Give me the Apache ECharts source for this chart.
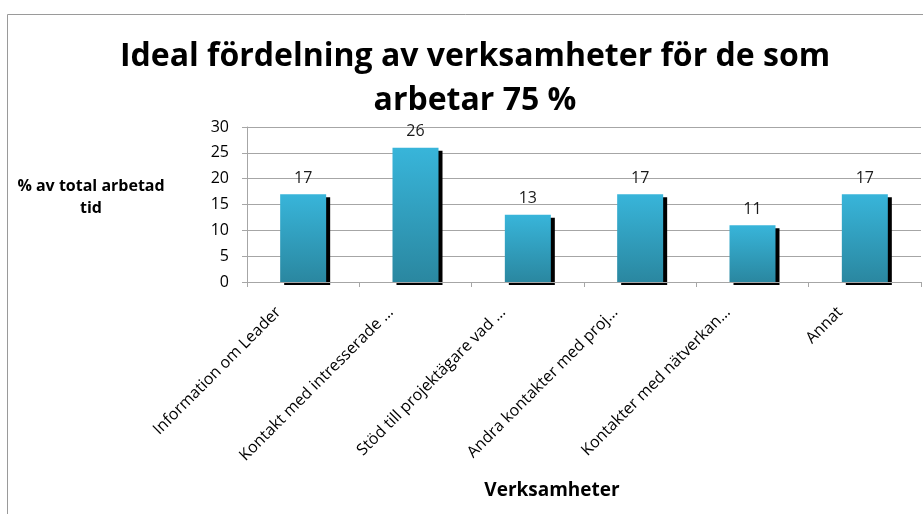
<!DOCTYPE html>
<html>
<head>
<meta charset="utf-8">
<script src="https://cdn.jsdelivr.net/npm/echarts@6/dist/echarts.min.js"></script>
<style>html,body{margin:0;padding:0;background:#fff}#c{width:923px;height:514px}</style>
</head>
<body>
<div id="c"></div>
<script>
const categories = ["Information om Leader", "Kontakt med intresserade …", "Stöd till projektägare vad …", "Andra kontakter med proj…", "Kontakter med nätverkan…", "Annat"];
const values = [17, 26, 13, 17, 11, 17];
const yTicks = [0, 5, 10, 15, 20, 25, 30];
const titleText = "Ideal fördelning av verksamheter för de som\narbetar 75 %";
const yAxisTitle = "% av total arbetad\ntid";
const xAxisTitle = "Verksamheter";

const chart = echarts.init(document.getElementById('c'), null, {renderer: 'canvas'});
chart.setOption({
  animation: false,
  backgroundColor: '#fff',
  title: {
    text: titleText,
    left: 470, top: 30, textAlign: 'center',
    textStyle: {fontFamily: 'Open Sans', fontWeight: 'bold', fontSize: 32, color: '#000', lineHeight: 44}
  },
  graphic: [
    {type: 'rect', shape: {x: 7.5, y: 14.5, width: 930, height: 520}, style: {fill: 'none', stroke: '#9a9a9a', lineWidth: 1}, z: -1},
    {type: 'text', x: 91, y: 175, style: {text: yAxisTitle, font: 'bold 16px "Open Sans"', fill: '#000', align: 'center', lineHeight: 22}},
    {type: 'text', x: 552, y: 481, style: {text: xAxisTitle, font: 'bold 19px "Open Sans"', fill: '#000', align: 'center'}}
  ],
  grid: {left: 247, right: 2, top: 127, bottom: 232, containLabel: false},
  xAxis: {
    type: 'category', data: categories, z: 5,
    axisLine: {lineStyle: {color: '#a6a6a6', width: 1}},
    axisTick: {show: true, length: 5, lineStyle: {color: '#a6a6a6'}},
    axisLabel: {rotate: 45, interval: 0, margin: 3, padding: [0, 35, 9, 0], fontFamily: 'Open Sans', fontSize: 16, color: '#000'}
  },
  yAxis: {
    type: 'value', min: 0, max: 30, interval: 5,
    axisLine: {show: true, lineStyle: {color: '#a6a6a6'}},
    axisTick: {show: true, length: 5, lineStyle: {color: '#a6a6a6'}},
    axisLabel: {margin: 18, fontFamily: 'Open Sans', fontSize: 16, color: '#000',
      formatter: v => yTicks.includes(v) ? String(v) : ''},
    splitLine: {lineStyle: {color: '#a6a6a6'}}
  },
  series: [{
    type: 'bar', data: values, barWidth: 46,
    itemStyle: {
      color: new echarts.graphic.LinearGradient(0, 0, 0, 1, [
        {offset: 0, color: '#38b5da'}, {offset: 1, color: '#2a87a0'}
      ]),
      shadowColor: '#000', shadowOffsetX: 4, shadowOffsetY: 3, shadowBlur: 0
    },
    label: {show: true, position: 'top', distance: 8, fontFamily: 'Open Sans', fontSize: 16, color: '#1a1a1a'}
  }]
});
</script>
</body>
</html>
